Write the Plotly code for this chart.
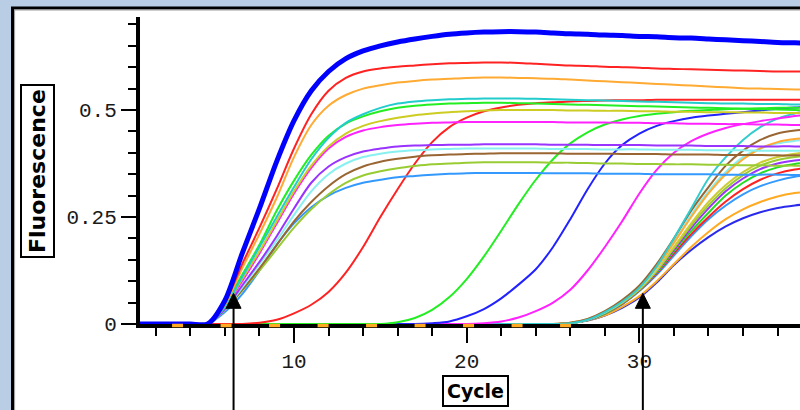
import plotly.graph_objects as go

# ---------------- data ----------------
cycles = list(range(1, 41))

# early group (Ct ~ 6)
a_blue = [0, 0, 0, 0, 0, 0.055, 0.165, 0.27, 0.38, 0.475, 0.545, 0.59, 0.62, 0.638, 0.65,
          0.659, 0.666, 0.672, 0.677, 0.68, 0.682, 0.683, 0.683, 0.682, 0.68, 0.678, 0.677,
          0.675, 0.674, 0.672, 0.671, 0.669, 0.668, 0.666, 0.664, 0.662, 0.66, 0.658, 0.657, 0.656]
a_red = [0, 0, 0, 0, 0, 0.05, 0.14, 0.225, 0.315, 0.41, 0.49, 0.545, 0.575, 0.59, 0.597,
         0.601, 0.604, 0.607, 0.609, 0.61, 0.611, 0.611, 0.61, 0.608, 0.606, 0.604, 0.603,
         0.601, 0.6, 0.599, 0.597, 0.596, 0.595, 0.594, 0.593, 0.592, 0.591, 0.59, 0.59, 0.589]
a_orange = [0, 0, 0, 0, 0, 0.045, 0.13, 0.21, 0.295, 0.39, 0.465, 0.51, 0.535, 0.55, 0.558,
            0.564, 0.568, 0.571, 0.573, 0.575, 0.576, 0.576, 0.575, 0.574, 0.573, 0.571, 0.569,
            0.567, 0.565, 0.563, 0.561, 0.559, 0.557, 0.555, 0.553, 0.551, 0.55, 0.549, 0.548, 0.547]
a_cyan = [0, 0, 0, 0, 0, 0.04, 0.11, 0.18, 0.25, 0.32, 0.385, 0.435, 0.47, 0.49, 0.505,
          0.515, 0.52, 0.523, 0.525, 0.526, 0.527, 0.527, 0.527, 0.526, 0.525, 0.524, 0.523,
          0.522, 0.521, 0.52, 0.519, 0.518, 0.517, 0.516, 0.515, 0.515, 0.514, 0.514, 0.513, 0.513]
a_green = [0, 0, 0, 0, 0, 0.045, 0.115, 0.185, 0.265, 0.335, 0.395, 0.44, 0.468, 0.485, 0.497,
           0.505, 0.51, 0.513, 0.515, 0.516, 0.517, 0.517, 0.516, 0.515, 0.514, 0.513, 0.512,
           0.511, 0.51, 0.509, 0.508, 0.507, 0.506, 0.505, 0.504, 0.503, 0.502, 0.501, 0.5, 0.499]
a_yellow = [0, 0, 0, 0, 0, 0.04, 0.105, 0.17, 0.24, 0.31, 0.37, 0.415, 0.445, 0.463, 0.474,
            0.482, 0.488, 0.492, 0.495, 0.497, 0.499, 0.5, 0.5, 0.5, 0.5, 0.499, 0.499,
            0.498, 0.498, 0.497, 0.497, 0.496, 0.496, 0.495, 0.495, 0.494, 0.494, 0.493, 0.493, 0.492]
a_magenta = [0, 0, 0, 0, 0, 0.04, 0.1, 0.165, 0.235, 0.305, 0.365, 0.41, 0.437, 0.452, 0.46,
             0.465, 0.468, 0.47, 0.471, 0.472, 0.472, 0.472, 0.472, 0.472, 0.472, 0.471, 0.471,
             0.471, 0.47, 0.47, 0.469, 0.469, 0.468, 0.468, 0.467, 0.467, 0.466, 0.466, 0.465, 0.465]
a_purple = [0, 0, 0, 0, 0, 0.035, 0.09, 0.145, 0.205, 0.27, 0.33, 0.368, 0.39, 0.403, 0.41,
            0.415, 0.417, 0.418, 0.419, 0.419, 0.42, 0.42, 0.42, 0.42, 0.419, 0.419, 0.419,
            0.418, 0.418, 0.418, 0.417, 0.417, 0.417, 0.416, 0.416, 0.416, 0.415, 0.415, 0.415, 0.414]
a_lightcyan = [0, 0, 0, 0, 0, 0.035, 0.085, 0.14, 0.195, 0.255, 0.31, 0.35, 0.375, 0.39, 0.398,
               0.403, 0.406, 0.408, 0.409, 0.41, 0.41, 0.41, 0.41, 0.41, 0.409, 0.409, 0.409,
               0.408, 0.408, 0.408, 0.407, 0.407, 0.407, 0.406, 0.406, 0.406, 0.405, 0.405, 0.405, 0.404]
a_brown = [0, 0, 0, 0, 0, 0.035, 0.08, 0.13, 0.185, 0.24, 0.285, 0.322, 0.35, 0.368, 0.379,
           0.386, 0.391, 0.394, 0.396, 0.397, 0.398, 0.399, 0.399, 0.399, 0.399, 0.398, 0.398,
           0.398, 0.397, 0.397, 0.397, 0.396, 0.396, 0.396, 0.395, 0.395, 0.395, 0.394, 0.394, 0.394]
a_yellowgreen = [0, 0, 0, 0, 0, 0.033, 0.078, 0.125, 0.175, 0.225, 0.268, 0.303, 0.33, 0.347, 0.357,
                 0.364, 0.369, 0.373, 0.375, 0.377, 0.378, 0.378, 0.378, 0.378, 0.377, 0.377, 0.376,
                 0.375, 0.375, 0.374, 0.374, 0.373, 0.373, 0.372, 0.372, 0.371, 0.371, 0.37, 0.37, 0.369]
a_azure = [0, 0, 0, 0, 0, 0.028, 0.07, 0.125, 0.185, 0.235, 0.273, 0.3, 0.318, 0.33, 0.337,
           0.343, 0.346, 0.349, 0.351, 0.352, 0.353, 0.353, 0.353, 0.353, 0.352, 0.352, 0.352,
           0.351, 0.351, 0.351, 0.35, 0.35, 0.35, 0.35, 0.349, 0.349, 0.349, 0.349, 0.348, 0.348]

# intermediate dilutions
b_red = [0, 0, 0, 0, 0, 0, 0, 0.003, 0.01, 0.025, 0.045, 0.075, 0.12, 0.18, 0.25,
         0.315, 0.375, 0.425, 0.46, 0.482, 0.497, 0.506, 0.512, 0.516, 0.518, 0.52, 0.521,
         0.522, 0.523, 0.523, 0.524, 0.524, 0.524, 0.524, 0.524, 0.524, 0.524, 0.524, 0.524, 0.524]
b_green = [0, 0, 0, 0, 0, 0, 0, 0, 0, 0, 0, 0, 0, 0, 0,
           0.004, 0.014, 0.033, 0.063, 0.105, 0.158, 0.218, 0.28, 0.337, 0.385, 0.422, 0.448,
           0.466, 0.478, 0.486, 0.491, 0.495, 0.498, 0.5, 0.502, 0.503, 0.504, 0.505, 0.505, 0.505]
b_blue = [0, 0, 0, 0, 0, 0, 0, 0, 0, 0, 0, 0, 0, 0, 0, 0, 0,
          0.002, 0.006, 0.018, 0.035, 0.06, 0.092, 0.128, 0.18, 0.245, 0.315, 0.375, 0.418,
          0.445, 0.463, 0.474, 0.482, 0.487, 0.491, 0.495, 0.499, 0.503, 0.506, 0.508]
b_magenta = [0, 0, 0, 0, 0, 0, 0, 0, 0, 0, 0, 0, 0, 0, 0, 0, 0, 0, 0, 0,
             0.002, 0.006, 0.015, 0.03, 0.05, 0.08, 0.125, 0.18, 0.24, 0.305,
             0.36, 0.4, 0.427, 0.445, 0.458, 0.467, 0.474, 0.48, 0.486, 0.49]

# late cluster (Ct ~ 30)
late_zeros = [0] * 25
c_cyan = late_zeros + [0.002, 0.01, 0.028, 0.052, 0.085, 0.135, 0.2, 0.27, 0.34, 0.39, 0.43, 0.46, 0.48, 0.492, 0.5]
c_brown = late_zeros + [0.003, 0.012, 0.03, 0.056, 0.09, 0.14, 0.2, 0.265, 0.32, 0.37, 0.405, 0.43, 0.445, 0.452, 0.456]
c_orange = late_zeros + [0.003, 0.011, 0.029, 0.054, 0.087, 0.132, 0.19, 0.25, 0.305, 0.35, 0.385, 0.41, 0.425, 0.432, 0.436]
c_lightcyan = late_zeros + [0.002, 0.01, 0.027, 0.052, 0.085, 0.13, 0.19, 0.255, 0.31, 0.355, 0.39, 0.41, 0.422, 0.428, 0.432]
c_yellow = late_zeros + [0.002, 0.01, 0.027, 0.05, 0.082, 0.125, 0.18, 0.235, 0.285, 0.325, 0.355, 0.377, 0.39, 0.398, 0.403]
c_yellowgreen = late_zeros + [0.002, 0.01, 0.026, 0.05, 0.081, 0.124, 0.177, 0.23, 0.277, 0.317, 0.348, 0.37, 0.383, 0.39, 0.394]
c_purple = late_zeros + [0.002, 0.009, 0.026, 0.049, 0.08, 0.122, 0.173, 0.224, 0.27, 0.31, 0.34, 0.362, 0.375, 0.382, 0.386]
c_green = late_zeros + [0.002, 0.009, 0.025, 0.048, 0.079, 0.12, 0.17, 0.217, 0.26, 0.3, 0.33, 0.352, 0.366, 0.374, 0.378]
c_red = late_zeros + [0.002, 0.009, 0.025, 0.047, 0.078, 0.118, 0.165, 0.21, 0.25, 0.286, 0.315, 0.337, 0.352, 0.361, 0.366]
c_azure = late_zeros + [0.002, 0.009, 0.024, 0.046, 0.077, 0.115, 0.16, 0.205, 0.245, 0.277, 0.303, 0.322, 0.335, 0.344, 0.348]
c_orange_low = late_zeros + [0.002, 0.008, 0.02, 0.04, 0.065, 0.1, 0.14, 0.18, 0.215, 0.245, 0.268, 0.285, 0.298, 0.306, 0.31]
c_blue_low = late_zeros + [0.002, 0.008, 0.02, 0.038, 0.062, 0.097, 0.138, 0.173, 0.203, 0.228, 0.247, 0.261, 0.271, 0.277, 0.281]

# threshold-crossing arrows (cycle, fluorescence at arrow tip)
arrow_cycles = [6.5, 30.2]
arrow_tip_value = [0.0717, 0.0717]

# orange baseline dashes span (cycles)
baseline_dash_span = [2.94, 26.6]

x_tick_vals = [10, 20, 30]
x_tick_text = ["10", "20", "30"]
y_tick_vals = [0, 0.25, 0.5]
y_tick_text = ["0", "0.25", "0.5"]

# ---------------- figure ----------------
series = [
    (c_blue_low, "#2a2aee", 2), (c_orange_low, "#ffaa22", 2), (c_azure, "#3399ff", 2),
    (c_red, "#ff2222", 2), (c_green, "#22dd22", 2), (c_purple, "#9933ff", 2),
    (c_yellowgreen, "#99cc33", 2), (c_yellow, "#cccc33", 2), (c_lightcyan, "#88f0f0", 2),
    (c_orange, "#ffaa33", 2), (c_brown, "#996633", 2), (c_cyan, "#33cccc", 2),
    (b_magenta, "#ff22ff", 2), (b_blue, "#2222ff", 2), (b_green, "#22ee22", 2), (b_red, "#ff2222", 2),
    (a_azure, "#3399ff", 2), (a_yellowgreen, "#99cc33", 2), (a_brown, "#996633", 2),
    (a_lightcyan, "#88f0f0", 2), (a_purple, "#9933ff", 2), (a_magenta, "#ff22ff", 2),
    (a_yellow, "#cccc22", 2), (a_green, "#22ee22", 2), (a_cyan, "#22cccc", 2),
    (a_orange, "#ffaa33", 2), (a_red, "#ff2222", 2), (a_blue, "#0000ff", 5),
]

fig = go.Figure()
for vals, col, w in series:
    assert len(vals) == len(cycles)
    fig.add_trace(go.Scatter(x=cycles, y=vals, mode="lines",
                             line=dict(color=col, width=w, shape="spline", smoothing=0.8),
                             hoverinfo="skip", showlegend=False))

L, T, B = 140, 17, 86
W, H = 800, 410
PW, PH = W - L, H - T - B
px_per_cycle = 17.27
x0 = 10 - (294 - L) / px_per_cycle
x1 = x0 + PW / px_per_cycle
y1 = PH / 428.0

def px_x(p):
    return (p - L) / PW

def px_y(p):
    return (H - B - p) / PH

shapes = [
    dict(type="rect", xref="paper", yref="paper", x0=px_x(12.5), x1=1.2, y0=-0.6, y1=px_y(8),
         fillcolor="white", line=dict(color="black", width=3), layer="below"),
    dict(type="rect", xref="paper", yref="paper", x0=px_x(14.6), x1=1.2, y0=-0.6, y1=px_y(10),
         fillcolor="rgba(0,0,0,0)", line=dict(color="#9a9a9a", width=1), layer="below"),
    dict(type="line", xref="x", yref="paper", x0=baseline_dash_span[0], x1=baseline_dash_span[1],
         y0=px_y(325.5), y1=px_y(325.5),
         line=dict(color="#ffaa22", width=3.5, dash="11px,37.5px"), layer="above"),
]
for ac, av in zip(arrow_cycles, arrow_tip_value):
    shapes.append(dict(type="line", xref="x", yref="paper", x0=ac, x1=ac,
                       y0=px_y(305), y1=-0.5, line=dict(color="black", width=2), layer="above"))
    shapes.append(dict(type="path", xref="x", yref="y", xsizemode="pixel", ysizemode="pixel",
                       xanchor=ac, yanchor=av, path="M0,0 L-7.5,-15 L7.5,-15 Z",
                       fillcolor="black", line=dict(color="black", width=1), layer="above"))

tick_font = dict(family="Liberation Mono", size=21, color="#1a1a1a")

annotations = [
    dict(text="<b>Fluorescence</b>", xref="paper", yref="paper", x=px_x(37), y=px_y(171),
         textangle=-90, showarrow=False, font=dict(family="DejaVu Sans", size=22, color="black"),
         bordercolor="black", borderwidth=2, borderpad=3, bgcolor="white",
         xanchor="center", yanchor="middle"),
    dict(text="<b>Cycle</b>", xref="paper", yref="paper", x=px_x(476), y=px_y(390.5),
         showarrow=False, font=dict(family="DejaVu Sans", size=19, color="black"),
         bordercolor="black", borderwidth=2, borderpad=3, bgcolor="white",
         xanchor="center", yanchor="middle"),
    dict(text="40", xref="paper", yref="paper", x=px_x(294 + 30 * px_per_cycle), y=px_y(361.5),
         showarrow=False, font=tick_font, xanchor="center", yanchor="middle"),
]

fig.update_layout(
    width=W, height=H,
    margin=dict(l=L, r=0, t=T, b=B, pad=0),
    paper_bgcolor="#b9cde5",
    plot_bgcolor="white",
    showlegend=False,
    shapes=shapes,
    annotations=annotations,
    xaxis=dict(range=[x0, x1], showgrid=False, zeroline=False, showline=True,
               linecolor="black", linewidth=4, layer="below traces",
               tickmode="array", tickvals=x_tick_vals, ticktext=x_tick_text,
               ticks="outside", ticklen=15, tickwidth=2, tickcolor="black",
               tickfont=tick_font,
               minor=dict(dtick=2, tick0=0, ticks="outside", ticklen=8, tickwidth=2,
                          tickcolor="black", showgrid=False)),
    yaxis=dict(range=[0, y1], showgrid=False, zeroline=False, showline=True,
               linecolor="black", linewidth=4, layer="below traces",
               tickmode="array", tickvals=y_tick_vals, ticktext=y_tick_text,
               ticks="outside", ticklen=15, tickwidth=2, tickcolor="black",
               tickfont=tick_font,
               minor=dict(dtick=0.05, tick0=0, ticks="outside", ticklen=8, tickwidth=2,
                          tickcolor="black", showgrid=False)),
)

fig.write_html("out.html", config={"displayModeBar": False, "staticPlot": True},
               post_script="document.body.style.margin='0px';document.body.style.overflow='hidden';")
